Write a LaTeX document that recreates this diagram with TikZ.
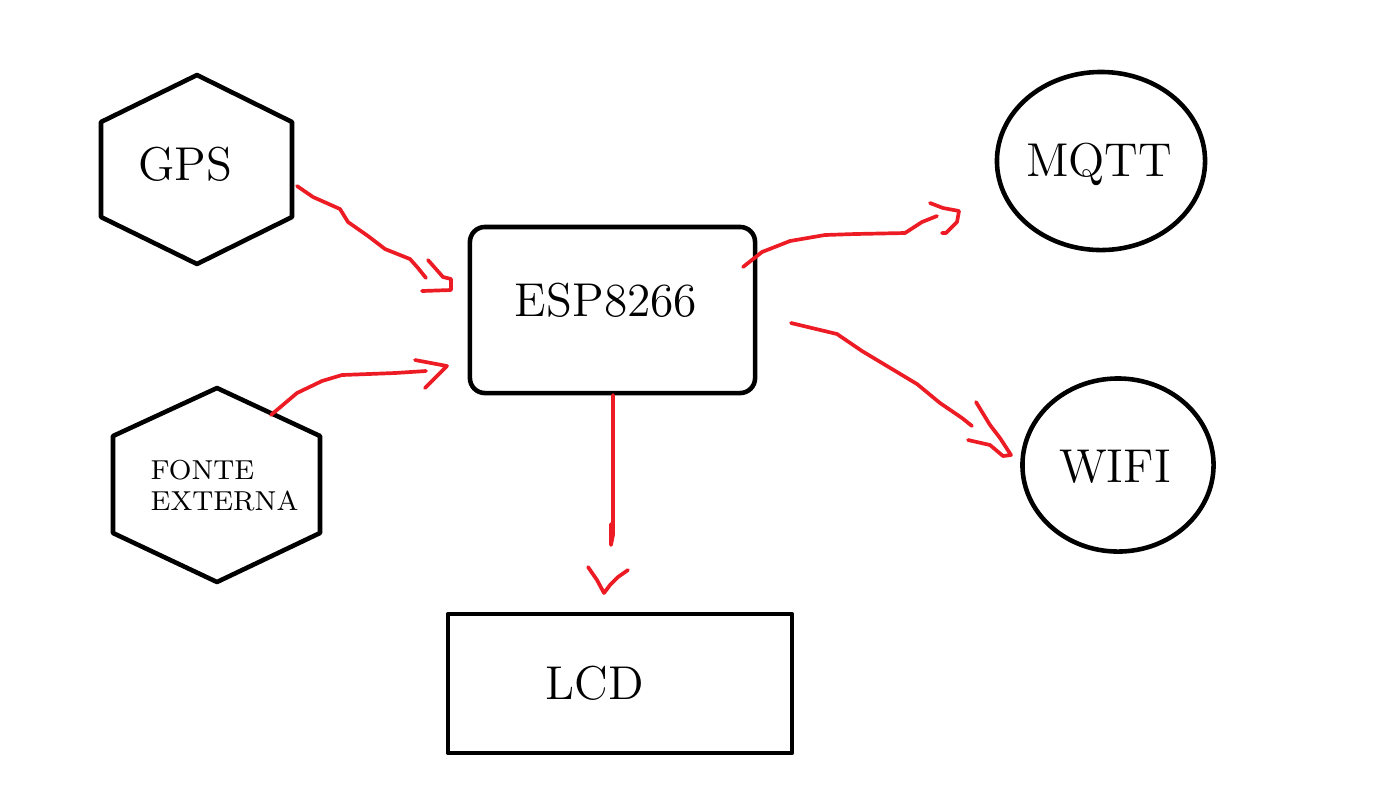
\documentclass[tikz,border=0pt]{standalone}
\usetikzlibrary{shapes.geometric}
\definecolor{pred}{RGB}{237,28,36}
\begin{document}
\begin{tikzpicture}[x=0.01cm,y=-0.01cm,
  blk/.style={draw=black,line width=1.3pt,line join=round},
  lbl/.style={font=\fontsize{13.5}{15}\selectfont,inner sep=0pt},
  small/.style={font=\fontsize{7.8}{8.8}\selectfont,inner sep=0pt,align=left},
  rline/.style={draw=pred,line width=1.05pt,line join=round,line cap=round}]
\useasboundingbox[fill=white] (0,0) rectangle (1400,808);
% shapes
\draw[blk] (197,75) -- (292,122) -- (292,217) -- (197,264) -- (101,217) -- (101,122) -- cycle;
\draw[blk] (217,388) -- (320,436) -- (320,533) -- (217,582) -- (113,533) -- (113,436) -- cycle;
\node[blk,rectangle,rounded corners=0.15cm,minimum width=2.85cm,minimum height=1.66cm] (esp) at (612.5,310) {};
\node[blk,rectangle,minimum width=3.44cm,minimum height=1.39cm] (lcd) at (620,683.5) {};
\node[blk,ellipse,minimum width=2.08cm,minimum height=1.78cm,inner sep=0pt] (mqtt) at (1101,161) {};
\node[blk,ellipse,minimum width=1.91cm,minimum height=1.73cm,inner sep=0pt] (wifi) at (1118,465) {};
% labels
\node[lbl] (gps) at (185,164) {GPS};
\node[lbl] (esplbl) at (606,300) {ESP8266};
\node[lbl] (mqttlbl) at (1099,164) {MQTT};
\node[lbl] (wifilbl) at (1115,467) {WIFI};
\node[lbl] (lcdlbl) at (595,683) {LCD};
\node[small,anchor=west] (fonte) at (150,486) {FONTE\\EXTERNA};
% arrow end coordinates
\coordinate (a1s) at (297,186); \coordinate (a1e) at (426,278);
\coordinate (a2s) at (271,415); \coordinate (a2e) at (426,371);
\coordinate (a3s) at (743,267); \coordinate (a3e) at (937,216);
\coordinate (a4s) at (791,323); \coordinate (a4e) at (972,426);
\coordinate (a5s) at (613,395); \coordinate (a5e) at (611,524);
% GPS -> ESP
\draw[rline] (a1s) -- (313,197) -- (340,209) -- (348,222) -- (368,236) -- (385,249) -- (410,259) -- (418,268) -- (a1e);
\draw[rline] (428,260) -- (443,277) -- (451,279) -- (451,290) -- (422,291);
% FONTE -> ESP
\draw[rline] (a2s) -- (297,393) -- (322,381) -- (342,375) -- (395,373) -- (a2e);
\draw[rline] (415,360) -- (447,366) -- (425,388);
% ESP -> MQTT
\draw[rline] (a3s) -- (762,252) -- (790,241) -- (825,235) -- (855,234) -- (905,233) -- (922,222) -- (a3e);
\draw[rline] (930,203) -- (943,208) -- (959,211) -- (957,222) -- (946,233) -- (942,233);
% ESP -> WIFI
\draw[rline] (a4s) -- (837,334) -- (862,351) -- (892,369) -- (917,384) -- (940,403) -- (962,418) -- (a4e);
\draw[rline] (976,402) -- (990,425) -- (1000,438) -- (1011,455) -- (1003,456) -- (990,445) -- (968,440);
% ESP -> LCD
\draw[rline] (a5s) -- (613,535) -- (611,545) -- (a5e);
\draw[rline] (588,567) -- (597,580) -- (604,593) -- (610,585) -- (618,577) -- (628,570);
\end{tikzpicture}
\end{document}
